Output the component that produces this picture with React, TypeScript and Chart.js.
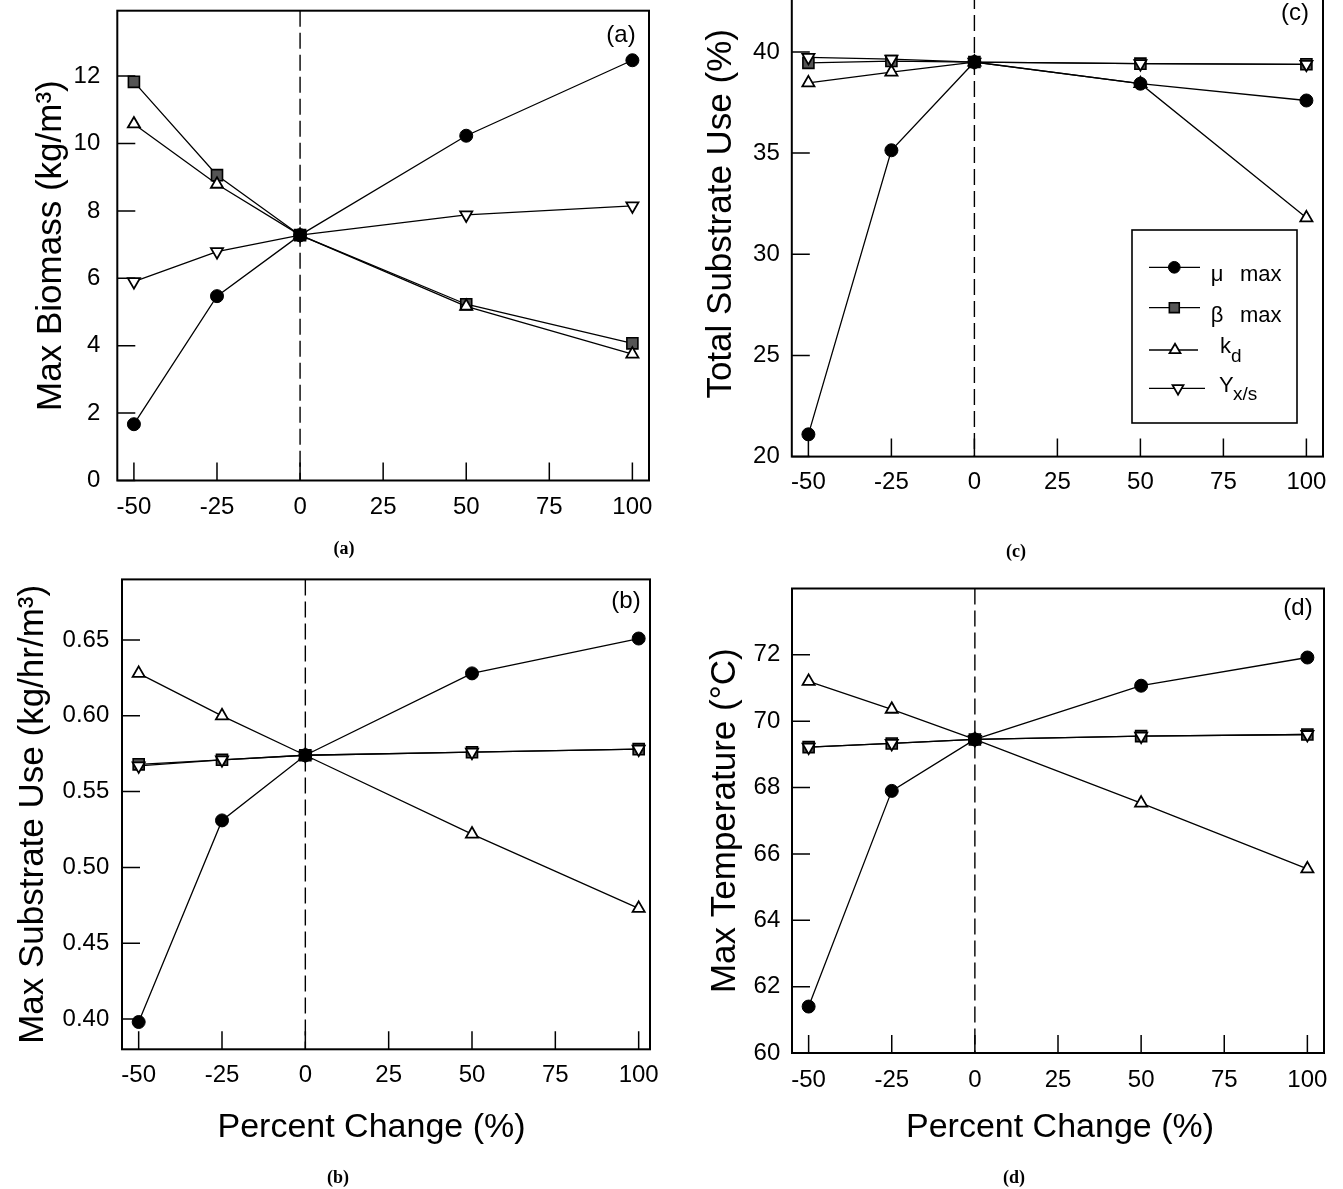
import React, { useEffect, useRef } from 'react';
import { Chart, registerables } from 'chart.js';
import { drawPoint } from 'chart.js/helpers';

Chart.register(...registerables);

// ---------------- DATA ----------------
const X_VALUES = [-50, -25, 0, 50, 100];
const X_TICKS = [-50, -25, 0, 25, 50, 75, 100];

// (a) Max Biomass (kg/m3)
const A_MU = [1.67, 5.47, 7.28, 10.23, 12.47];
const A_BETA = [11.83, 9.06, 7.28, 5.23, 4.07];
const A_KD = [10.58, 8.79, 7.28, 5.17, 3.75];
const A_YXS = [5.9, 6.79, 7.28, 7.88, 8.15];
const A_Y_TICKS = [0, 2, 4, 6, 8, 10, 12];

// (c) Total Substrate Use (%)
const C_MU = [21.1, 35.14, 39.5, 38.43, 37.6];
const C_BETA = [39.46, 39.55, 39.5, 39.42, 39.39];
const C_KD = [38.47, 39.0, 39.5, 38.43, 31.8];
const C_YXS = [39.73, 39.64, 39.5, 39.42, 39.39];
const C_Y_TICKS = [20, 25, 30, 35, 40];

// (b) Max Substrate Use (kg/hr/m3)
const B_MU = [0.398, 0.531, 0.574, 0.628, 0.651];
const B_BETA = [0.568, 0.571, 0.574, 0.576, 0.578];
const B_KD = [0.628, 0.6, 0.574, 0.522, 0.473];
const B_YXS = [0.567, 0.571, 0.574, 0.576, 0.578];
const B_Y_TICKS = [0.4, 0.45, 0.5, 0.55, 0.6, 0.65];

// (d) Max Temperature (°C)
const D_MU = [61.4, 67.9, 69.45, 71.07, 71.92];
const D_BETA = [69.22, 69.33, 69.45, 69.55, 69.6];
const D_KD = [71.2, 70.36, 69.45, 67.53, 65.55];
const D_YXS = [69.22, 69.33, 69.45, 69.55, 69.6];
const D_Y_TICKS = [60, 62, 64, 66, 68, 70, 72];

const SERIES_LABELS = ['μ max', 'β max', 'kd', 'Yx/s'];

// ---------------- STYLES ----------------
const FONT = "'Liberation Sans', Arial, sans-serif";
const SERIF = "'Liberation Serif', 'Times New Roman', serif";

const SERIES_STYLES = [
  { pointStyle: 'circle', rotation: 0, radius: 6.5, bg: '#000', bw: 1, order: 0 },
  { pointStyle: 'rect', rotation: 0, radius: 7.8, bg: '#555', bw: 1.6, order: 3 },
  { pointStyle: 'triangle', rotation: 0, radius: 7, bg: '#fff', bw: 1.8, order: 2 },
  { pointStyle: 'triangle', rotation: 180, radius: 7, bg: '#fff', bw: 1.8, order: 1 },
];

type PanelSpec = {
  key: string;
  left: number; top: number; width: number; height: number;
  yAxisW: number; pad: { top: number; right: number; bottom: number };
  xMin: number; xMax: number; yMin: number; yMax: number;
  yTicks: number[]; yDec: number;
  yTitle: string; yTitlePad: number; yTickPad: number; xTickPad: number;
  series: number[][];
  letter: { t: string; x: number; y: number };
  caption: { t: string; x: number; y: number };
  xTitle?: { t: string; x: number; y: number };
  legend?: boolean;
};

const PANELS: PanelSpec[] = [
  {
    key: 'a', left: 0, top: 0, width: 670, height: 570,
    yAxisW: 117.3, pad: { top: 10.7, right: 21, bottom: 49.5 },
    xMin: -55, xMax: 105, yMin: 0, yMax: 13.94,
    yTicks: A_Y_TICKS, yDec: 0,
    yTitle: 'Max Biomass (kg/m³)', yTitlePad: 30.5, yTickPad: 17, xTickPad: 12.9,
    series: [A_MU, A_BETA, A_KD, A_YXS],
    letter: { t: '(a)', x: 621, y: 35 },
    caption: { t: '(a)', x: 344, y: 549 },
  },
  {
    key: 'c', left: 670, top: -40, width: 673, height: 610,
    yAxisW: 121.8, pad: { top: 11, right: 20, bottom: 73.4 },
    xMin: -55, xMax: 105, yMin: 20, yMax: 44,
    yTicks: C_Y_TICKS, yDec: 0,
    yTitle: 'Total Substrate Use (%)', yTitlePad: 30, yTickPad: 12, xTickPad: 11.6,
    series: [C_MU, C_BETA, C_KD, C_YXS],
    letter: { t: '(c)', x: 625, y: 53 },
    caption: { t: '(c)', x: 346, y: 592 },
    legend: true,
  },
  {
    key: 'b', left: 0, top: 570, width: 670, height: 619,
    yAxisW: 122, pad: { top: 7, right: 20, bottom: 99.7 },
    xMin: -55, xMax: 103.4, yMin: 0.38, yMax: 0.69,
    yTicks: B_Y_TICKS, yDec: 2,
    yTitle: 'Max Substrate Use (kg/hr/m³)', yTitlePad: 12.3, yTickPad: 12.7, xTickPad: 11.6,
    series: [B_MU, B_BETA, B_KD, B_YXS],
    letter: { t: '(b)', x: 626, y: 31 },
    caption: { t: '(b)', x: 338, y: 608 },
    xTitle: { t: 'Percent Change (%)', x: 371.5, y: 558 },
  },
  {
    key: 'd', left: 670, top: 570, width: 673, height: 619,
    yAxisW: 122, pad: { top: 18.5, right: 19, bottom: 96 },
    xMin: -55, xMax: 105, yMin: 60, yMax: 74,
    yTicks: D_Y_TICKS, yDec: 0,
    yTitle: 'Max Temperature (°C)', yTitlePad: 34, yTickPad: 11.7, xTickPad: 13.2,
    series: [D_MU, D_BETA, D_KD, D_YXS],
    letter: { t: '(d)', x: 628, y: 38 },
    caption: { t: '(d)', x: 344, y: 608 },
    xTitle: { t: 'Percent Change (%)', x: 390, y: 558 },
  },
];

// ---------------- PLUGIN ----------------
const decorPlugin = {
  id: 'decor',
  beforeDatasetsDraw(chart: any) {
    const { ctx, chartArea: ca, scales } = chart;
    const px = scales.x.getPixelForValue(0);
    ctx.save();
    ctx.strokeStyle = '#000';
    ctx.lineWidth = 1.4;
    ctx.setLineDash([16, 6]);
    ctx.beginPath();
    ctx.moveTo(px, ca.top);
    ctx.lineTo(px, ca.bottom);
    ctx.stroke();
    ctx.restore();
  },
  afterDraw(chart: any, _args: any, opts: any) {
    const { ctx, chartArea: ca, scales } = chart;
    const spec: PanelSpec = opts.spec;
    ctx.save();
    ctx.strokeStyle = '#000';
    ctx.fillStyle = '#000';
    // frame
    ctx.lineWidth = 2;
    ctx.strokeRect(ca.left, ca.top, ca.right - ca.left, ca.bottom - ca.top);
    // inward ticks
    ctx.lineWidth = 1.5;
    ctx.beginPath();
    scales.x.ticks.forEach((t: any) => {
      const p = scales.x.getPixelForValue(t.value);
      ctx.moveTo(p, ca.bottom);
      ctx.lineTo(p, ca.bottom - 18);
    });
    scales.y.ticks.forEach((t: any) => {
      const p = scales.y.getPixelForValue(t.value);
      ctx.moveTo(ca.left, p);
      ctx.lineTo(ca.left + 18, p);
    });
    ctx.stroke();
    // panel letter
    ctx.textAlign = 'center';
    ctx.textBaseline = 'middle';
    ctx.font = `24px ${FONT}`;
    ctx.fillText(spec.letter.t, spec.letter.x, spec.letter.y);
    // caption
    ctx.font = `bold 18px ${SERIF}`;
    ctx.fillText(spec.caption.t, spec.caption.x, spec.caption.y);
    // x title
    if (spec.xTitle) {
      ctx.font = `34px ${FONT}`;
      ctx.fillText(spec.xTitle.t, spec.xTitle.x, spec.xTitle.y);
    }
    // legend
    if (spec.legend) {
      const ox = spec.left, oy = spec.top;
      ctx.lineWidth = 1.6;
      ctx.strokeRect(1132 - ox, 230 - oy, 165, 193);
      const rows = [
        { y: 267.3, x1: 1149, x2: 1200, mx: 1174.3 },
        { y: 307.7, x1: 1149, x2: 1200, mx: 1174.3 },
        { y: 350, x1: 1149, x2: 1198, mx: 1175 },
        { y: 388.3, x1: 1149, x2: 1205, mx: 1178 },
      ];
      rows.forEach((r, i) => {
        const st = SERIES_STYLES[i];
        ctx.strokeStyle = '#000';
        ctx.lineWidth = 1.3;
        ctx.beginPath();
        ctx.moveTo(r.x1 - ox, r.y - oy);
        ctx.lineTo(r.x2 - ox, r.y - oy);
        ctx.stroke();
        ctx.fillStyle = st.bg;
        ctx.lineWidth = st.bw;
        drawPoint(ctx, { pointStyle: st.pointStyle as any, rotation: st.rotation, radius: st.radius * 0.9, borderWidth: st.bw }, r.mx - ox, r.y - oy);
        ctx.fillStyle = '#000';
      });
      ctx.textAlign = 'left';
      ctx.textBaseline = 'alphabetic';
      ctx.font = `22px ${FONT}`;
      ctx.fillText('μ', 1210.7 - ox, 281 - oy);
      ctx.fillText('max', 1240 - ox, 281 - oy);
      ctx.fillText('β', 1210.7 - ox, 321.7 - oy);
      ctx.fillText('max', 1240 - ox, 321.7 - oy);
      ctx.fillText('k', 1220 - ox, 353.3 - oy);
      ctx.font = `19px ${FONT}`;
      ctx.fillText('d', 1231 - ox, 361.7 - oy);
      ctx.font = `22px ${FONT}`;
      ctx.fillText('Y', 1219 - ox, 391.7 - oy);
      ctx.font = `19px ${FONT}`;
      ctx.fillText('x/s', 1233 - ox, 400 - oy);
    }
    ctx.restore();
  },
};

// ---------------- COMPONENTS ----------------
function Panel({ spec }: { spec: PanelSpec }) {
  const ref = useRef<HTMLCanvasElement | null>(null);
  useEffect(() => {
    if (!ref.current) return;
    const datasets = spec.series.map((vals, i) => {
      const st = SERIES_STYLES[i];
      return {
        label: SERIES_LABELS[i],
        data: X_VALUES.map((x, j) => ({ x, y: vals[j] })),
        borderColor: '#000',
        borderWidth: 1.3,
        backgroundColor: st.bg,
        pointStyle: st.pointStyle,
        pointRotation: st.rotation,
        pointRadius: st.radius,
        pointBackgroundColor: st.bg,
        pointBorderColor: '#000',
        pointBorderWidth: st.bw,
        tension: 0,
        fill: false,
        order: st.order,
      };
    });
    const chart = new Chart(ref.current, {
      type: 'line',
      data: { datasets } as any,
      plugins: [decorPlugin],
      options: {
        responsive: false,
        animation: false,
        devicePixelRatio: 1,
        layout: { padding: { left: 0, top: spec.pad.top, right: spec.pad.right, bottom: spec.pad.bottom } },
        plugins: {
          legend: { display: false },
          tooltip: { enabled: false },
          decor: { spec },
        } as any,
        scales: {
          x: {
            type: 'linear',
            min: spec.xMin,
            max: spec.xMax,
            afterBuildTicks: (s: any) => { s.ticks = X_TICKS.map((v) => ({ value: v })); },
            afterFit: (s: any) => {
              s.height = 40;
              s.paddingLeft = 0; s.paddingRight = 0; s.paddingTop = 0; s.paddingBottom = 0;
            },
            grid: { display: false, drawTicks: false },
            border: { display: false },
            ticks: {
              autoSkip: false,
              maxRotation: 0,
              color: '#000',
              padding: spec.xTickPad,
              font: { family: FONT, size: 24 },
              callback: (v: any) => String(v),
            },
          },
          y: {
            type: 'linear',
            min: spec.yMin,
            max: spec.yMax,
            afterBuildTicks: (s: any) => { s.ticks = spec.yTicks.map((v) => ({ value: v })); },
            afterFit: (s: any) => {
              s.width = spec.yAxisW;
              s.paddingLeft = 0; s.paddingRight = 0; s.paddingTop = 0; s.paddingBottom = 0;
            },
            grid: { display: false, drawTicks: false },
            border: { display: false },
            ticks: {
              autoSkip: false,
              color: '#000',
              padding: spec.yTickPad,
              font: { family: FONT, size: 24 },
              callback: (v: any) => Number(v).toFixed(spec.yDec),
            },
            title: {
              display: true,
              text: spec.yTitle,
              color: '#000',
              font: { family: FONT, size: 35 },
              padding: { top: spec.yTitlePad, bottom: 0 },
            },
          },
        },
      } as any,
    });
    return () => chart.destroy();
  }, [spec]);
  return (
    <canvas
      ref={ref}
      width={spec.width}
      height={spec.height}
      style={{ position: 'absolute', left: spec.left, top: spec.top, width: spec.width, height: spec.height }}
    />
  );
}

export default function App() {
  return (
    <div style={{ position: 'absolute', left: 0, top: 0, width: 1343, height: 1189, background: '#fff', overflow: 'hidden' }}>
      {PANELS.map((p) => <Panel key={p.key} spec={p} />)}
    </div>
  );
}
